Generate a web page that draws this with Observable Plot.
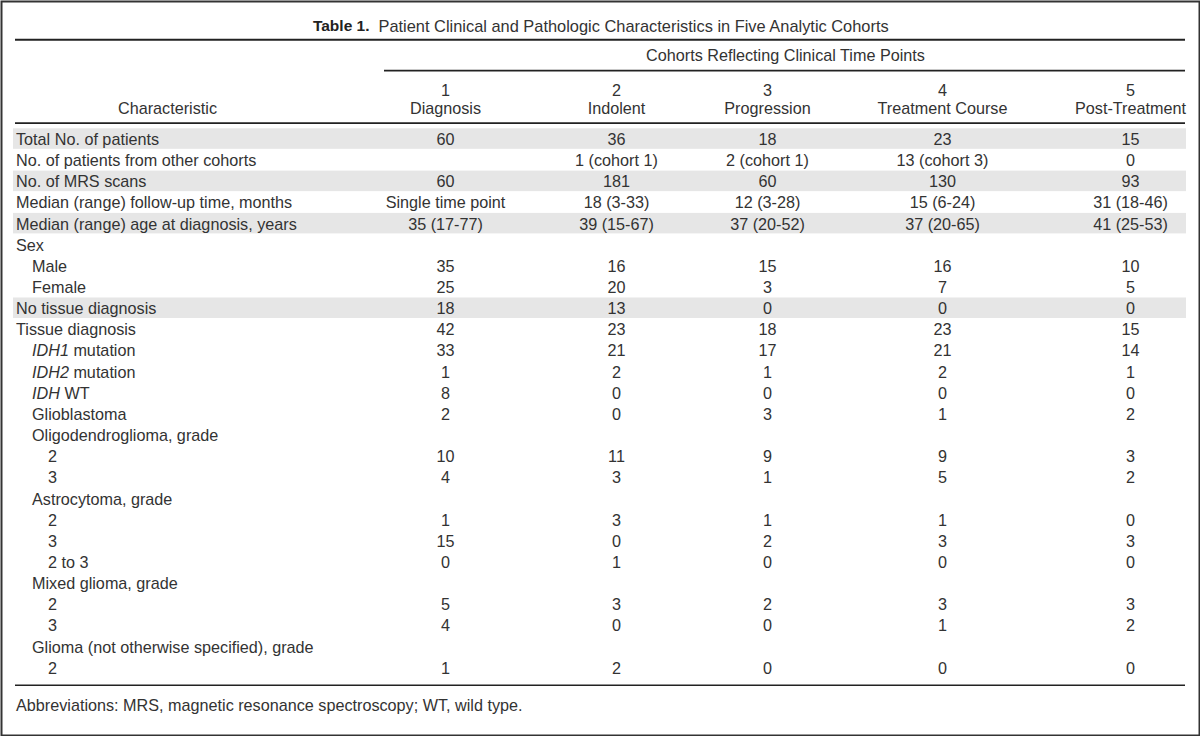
<!DOCTYPE html>
<html>
<head>
<meta charset="utf-8">
<script src="https://cdn.jsdelivr.net/npm/d3@7"></script>
<script src="https://cdn.jsdelivr.net/npm/@observablehq/plot@0.6"></script>
<style>
  html, body { margin: 0; padding: 0; background: #fff; }
  #chart svg { display: block; }
</style>
</head>
<body>
<div id="chart"></div>
<script>
// ---------------- DATA ----------------
const titleBold = "Table 1.";
const titleText = "Patient Clinical and Pathologic Characteristics in Five Analytic Cohorts";
const spannerText = "Cohorts Reflecting Clinical Time Points";
const stubHeader = "Characteristic";
const cohortNumbers = ["1", "2", "3", "4", "5"];
const cohortNames = ["Diagnosis", "Indolent", "Progression", "Treatment Course", "Post-Treatment"];
const footnote = "Abbreviations: MRS, magnetic resonance spectroscopy; WT, wild type.";

const characteristics = [
  "Total No. of patients",
  "No. of patients from other cohorts",
  "No. of MRS scans",
  "Median (range) follow-up time, months",
  "Median (range) age at diagnosis, years",
  "Sex",
  "Male",
  "Female",
  "No tissue diagnosis",
  "Tissue diagnosis",
  "IDH1 mutation",
  "IDH2 mutation",
  "IDH WT",
  "Glioblastoma",
  "Oligodendroglioma, grade",
  "2",
  "3",
  "Astrocytoma, grade",
  "2",
  "3",
  "2 to 3",
  "Mixed glioma, grade",
  "2",
  "3",
  "Glioma (not otherwise specified), grade",
  "2"
];
const indentLevel = [0,0,0,0,0,0,1,1,0,0,1,1,1,1,1,2,2,1,2,2,2,1,2,2,1,2];
const shadedRows = [0, 2, 4, 8];

const cohort1 = ["60", "", "60", "Single time point", "35 (17-77)", "", "35", "25", "18", "42", "33", "1", "8", "2", "", "10", "4", "", "1", "15", "0", "", "5", "4", "", "1"];
const cohort2 = ["36", "1 (cohort 1)", "181", "18 (3-33)", "39 (15-67)", "", "16", "20", "13", "23", "21", "2", "0", "0", "", "11", "3", "", "3", "0", "1", "", "3", "0", "", "2"];
const cohort3 = ["18", "2 (cohort 1)", "60", "12 (3-28)", "37 (20-52)", "", "15", "3", "0", "18", "17", "1", "0", "3", "", "9", "1", "", "1", "2", "0", "", "2", "0", "", "0"];
const cohort4 = ["23", "13 (cohort 3)", "130", "15 (6-24)", "37 (20-65)", "", "16", "7", "0", "23", "21", "2", "0", "1", "", "9", "5", "", "1", "3", "0", "", "3", "1", "", "0"];
const cohort5 = ["15", "0", "93", "31 (18-46)", "41 (25-53)", "", "10", "5", "0", "15", "14", "1", "0", "2", "", "3", "2", "", "0", "3", "0", "", "3", "2", "", "0"];
const cohortValues = [cohort1, cohort2, cohort3, cohort4, cohort5];

// ---------------- LAYOUT ----------------
const W = 1200, H = 736;
const colCenters = [445, 616, 767, 942, 1130];
const stubX = 15.5, indentStep = 16;
const tableLeft = 13, tableRight = 1186, spannerLeft = 384;
// header positions in row units (row 0 = first body row)
const pos = {
  title: -5.36, topRule: -4.73, spanner: -3.95, spannerRule: -3.27,
  numbers: -2.33, names: -1.46, headRule: -0.79, bottomRule: 25.79, foot: 26.78
};
const ink = "#333";
const font = "'Liberation Sans', Arial, Helvetica, sans-serif";
const fs = 16.2;

// ---------------- BUILD ----------------
const stubRows = characteristics.map((t, i) => ({row: i, text: t, level: indentLevel[i]}));
const cells = [];
cohortValues.forEach((vals, c) => vals.forEach((v, i) => { if (v !== "") cells.push({row: i, col: c, text: v}); }));
const heads = cohortNames.map((n, c) => ({col: c, num: cohortNumbers[c], name: n}));

const plot = Plot.plot({
  width: W, height: H,
  margin: 0,
  x: {type: "linear", domain: [0, W], range: [0, W], axis: null},
  y: {type: "linear", domain: [0, characteristics.length - 1], range: [139.3, 668], axis: null},
  style: {fontFamily: font, fontSize: fs + "px", color: ink, background: "#fff"},
  marks: [
    Plot.rect(shadedRows, {x1: tableLeft, x2: tableRight, y1: d => d - 0.52, y2: d => d + 0.45, fill: "#e6e6e6"}),
    // rules
    Plot.ruleY([pos.topRule], {x1: tableLeft + 2, x2: tableRight - 1, stroke: "#222", strokeWidth: 1.8}),
    Plot.ruleY([pos.spannerRule], {x1: spannerLeft, x2: tableRight - 1, stroke: "#222", strokeWidth: 1.6}),
    Plot.ruleY([pos.headRule], {x1: tableLeft + 2, x2: tableRight - 1, stroke: "#222", strokeWidth: 1.6}),
    Plot.ruleY([pos.bottomRule], {x1: tableLeft + 2, x2: tableRight - 1, stroke: "#222", strokeWidth: 1.6}),
    // title
    Plot.text([titleBold], {x: 369, y: pos.title, text: d => d, textAnchor: "end", fontWeight: "bold",
      fontFamily: font, fontSize: 15.5, fill: "#222"}),
    Plot.text([titleText], {x: 378, y: pos.title, text: d => d, textAnchor: "start", fontSize: 16.4, fill: ink}),
    // spanner
    Plot.text([spannerText], {x: (spannerLeft + tableRight) / 2, y: pos.spanner, text: d => d, fontSize: fs, fill: ink}),
    // column heads
    Plot.text([stubHeader], {x: 167, y: pos.names, text: d => d, fontSize: fs, fill: ink}),
    Plot.text(heads, {x: d => colCenters[d.col], y: pos.numbers, text: "num", fontSize: fs, fill: ink}),
    Plot.text(heads, {x: d => colCenters[d.col], y: pos.names, text: "name", fontSize: fs, fill: ink}),
    // stub
    Plot.text(stubRows, {x: d => stubX + d.level * indentStep, y: "row", text: "text", textAnchor: "start", fontSize: fs, fill: ink}),
    // body cells
    Plot.text(cells, {x: d => colCenters[d.col], y: "row", text: "text", fontSize: fs, fill: ink}),
    // footnote
    Plot.text([footnote], {x: stubX, y: pos.foot, text: d => d, textAnchor: "start", fontSize: fs, fill: ink}),
    // outer frame
    Plot.frame({stroke: "#333", strokeWidth: 2, inset: 1})
  ]
});

// italic gene names
plot.querySelectorAll("text").forEach(t => {
  const s = t.textContent;
  const m = s.match(/^(IDH\d?)( .*)$/);
  if (m && t.childElementCount === 0) {
    t.textContent = "";
    const a = document.createElementNS("http://www.w3.org/2000/svg", "tspan");
    a.setAttribute("font-style", "italic");
    a.textContent = m[1];
    const b = document.createElementNS("http://www.w3.org/2000/svg", "tspan");
    b.textContent = m[2];
    t.appendChild(a); t.appendChild(b);
  }
});
document.getElementById("chart").appendChild(plot);
</script>
</body>
</html>
